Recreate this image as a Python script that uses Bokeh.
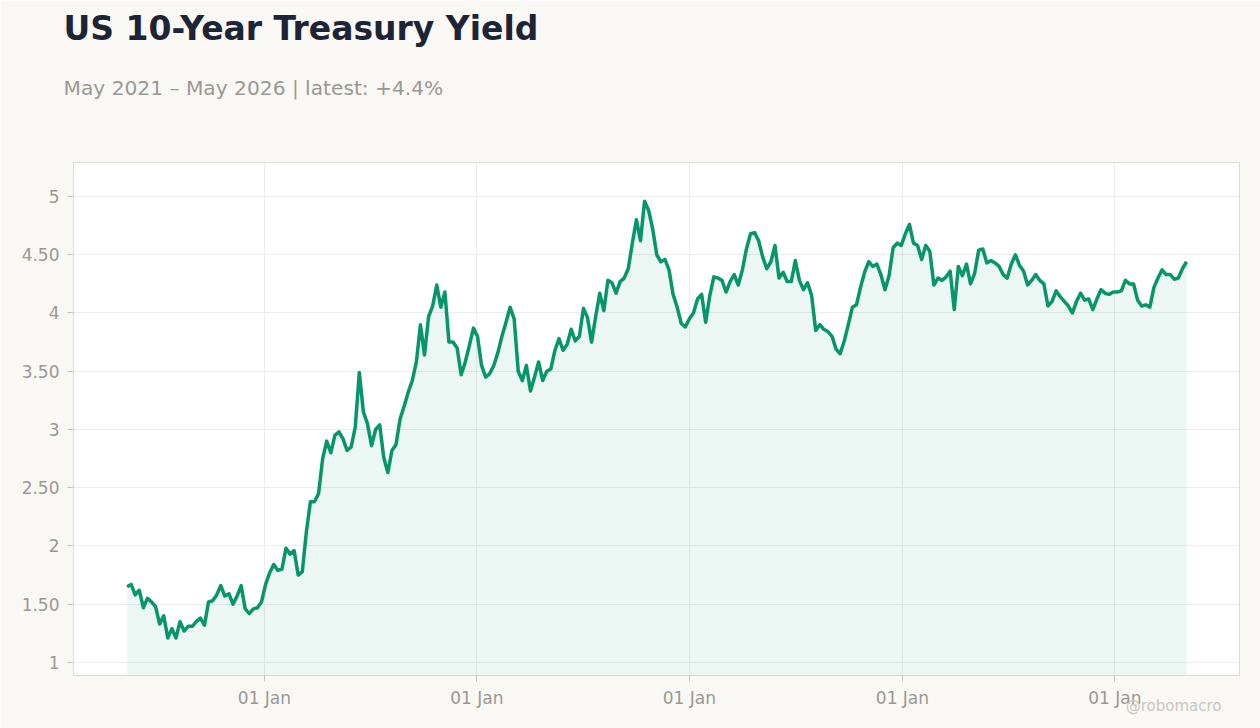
import pandas as pd
from datetime import datetime
from bokeh.plotting import figure
from bokeh.models import (ColumnDataSource, Range1d, FixedTicker, DatetimeTickFormatter,
                          CustomJSTickFormatter, Title)
from bokeh.embed import file_html
from bokeh.resources import INLINE

# ---- data (weekly readings of the 10-year yield, %) ----
start_date = "2021-05-10"
yields = [
    1.65, 1.67, 1.58, 1.62, 1.47, 1.55, 1.52, 1.48, 1.33, 1.40,
    1.21, 1.29, 1.21, 1.35, 1.27, 1.31, 1.31, 1.35, 1.38, 1.32,
    1.52, 1.53, 1.58, 1.66, 1.57, 1.59, 1.50, 1.57, 1.66, 1.46,
    1.42, 1.46, 1.47, 1.52, 1.67, 1.77, 1.84, 1.79, 1.80, 1.98,
    1.93, 1.96, 1.75, 1.78, 2.12, 2.38, 2.38, 2.45, 2.75, 2.90,
    2.80, 2.95, 2.98, 2.92, 2.82, 2.85, 3.02, 3.49, 3.15, 3.05,
    2.86, 3.00, 3.04, 2.76, 2.63, 2.82, 2.87, 3.09, 3.20, 3.32,
    3.42, 3.58, 3.90, 3.64, 3.97, 4.06, 4.24, 4.05, 4.18, 3.75,
    3.75, 3.70, 3.47, 3.58, 3.72, 3.87, 3.80, 3.55, 3.45, 3.48,
    3.55, 3.66, 3.80, 3.92, 4.05, 3.95, 3.50, 3.42, 3.55, 3.33,
    3.45, 3.58, 3.42, 3.50, 3.52, 3.68, 3.78, 3.68, 3.73, 3.86,
    3.76, 3.80, 4.04, 3.96, 3.75, 3.97, 4.17, 4.02, 4.28, 4.26,
    4.17, 4.27, 4.30, 4.38, 4.60, 4.80, 4.62, 4.96, 4.88, 4.72,
    4.50, 4.44, 4.46, 4.37, 4.16, 4.05, 3.91, 3.88, 3.95, 4.00,
    4.12, 4.16, 3.92, 4.15, 4.31, 4.30, 4.28, 4.18, 4.27, 4.33,
    4.24, 4.37, 4.55, 4.68, 4.69, 4.62, 4.48, 4.38, 4.44, 4.58,
    4.30, 4.35, 4.27, 4.27, 4.45, 4.28, 4.20, 4.26, 4.15, 3.85,
    3.90, 3.86, 3.84, 3.80, 3.69, 3.65, 3.76, 3.90, 4.05, 4.07,
    4.22, 4.35, 4.44, 4.40, 4.42, 4.33, 4.20, 4.32, 4.56, 4.60,
    4.58, 4.68, 4.76, 4.60, 4.58, 4.46, 4.58, 4.53, 4.24, 4.30,
    4.28, 4.31, 4.36, 4.03, 4.40, 4.32, 4.42, 4.25, 4.34, 4.54,
    4.55, 4.43, 4.45, 4.43, 4.40, 4.33, 4.30, 4.42, 4.50, 4.41,
    4.36, 4.24, 4.28, 4.33, 4.28, 4.25, 4.06, 4.10, 4.19, 4.14,
    4.10, 4.06, 4.00, 4.10, 4.17, 4.11, 4.12, 4.03, 4.12, 4.20,
    4.17, 4.16, 4.18, 4.18, 4.19, 4.28, 4.25, 4.25, 4.11, 4.06,
    4.07, 4.05, 4.22, 4.30, 4.37, 4.33, 4.33, 4.29, 4.30, 4.38, 4.44,
]
dates = pd.date_range(start_date, periods=len(yields), freq="7D")

x_tick_dates = ["2022-01-01", "2023-01-01", "2024-01-01", "2025-01-01", "2026-01-01"]
y_ticks = [1, 1.5, 2, 2.5, 3, 3.5, 4, 4.5, 5]

title_text = "US 10-Year Treasury Yield"
subtitle_text = "May 2021 \u2013 May 2026 | latest: +4.4%"
credit_text = "@robomacro"

x_start, x_end = datetime(2021, 2, 7), datetime(2026, 8, 3)
y_start, y_end = 0.888, 5.292

# ---- styling ----
LINE = "#079669"
BG = "#f9f8f5"
GREY = "#9a9892"

src = ColumnDataSource(dict(date=dates, y=yields, base=[y_start] * len(yields)))

p = figure(width=1260, height=728, x_axis_type="datetime", output_backend="svg",
           toolbar_location=None, x_range=Range1d(x_start, x_end),
           y_range=Range1d(y_start, y_end),
           min_border_left=73, min_border_right=21, min_border_top=162, min_border_bottom=53)
p.title.visible = False
p.border_fill_color = BG
p.background_fill_color = "white"
p.outline_line_color = "#dedbd5"
p.outline_line_width = 1

p.varea(x="date", y1="base", y2="y", source=src, fill_color=LINE, fill_alpha=0.08)
p.line(x="date", y="y", source=src, line_color=LINE, line_width=3.5, line_join="round")

# axes
p.xaxis.ticker = FixedTicker(ticks=[pd.Timestamp(d).value / 1e6 for d in x_tick_dates])
p.xaxis.formatter = DatetimeTickFormatter(years="%d %b", months="%d %b", days="%d %b")
p.yaxis.ticker = FixedTicker(ticks=y_ticks)
p.yaxis.formatter = CustomJSTickFormatter(code="return (tick % 1 === 0) ? tick.toFixed(0) : tick.toFixed(2);")
for ax in (p.xaxis[0], p.yaxis[0]):
    ax.axis_line_color = None
    ax.major_tick_line_color = "#c9c6c0"
    ax.major_tick_out = 6
    ax.major_tick_in = 0
    ax.minor_tick_line_color = None
    ax.major_label_text_font = "DejaVu Sans"
    ax.major_label_text_font_size = "17px"
    ax.major_label_text_color = GREY
p.yaxis.major_label_standoff = 8
p.xaxis.major_label_standoff = 6

p.xgrid.grid_line_color = "#ececec"
p.ygrid.grid_line_color = "#ececec"

# titles and credit (stacked outward from the plot frame)
p.add_layout(Title(text=" ", standoff=40.3, text_font_size="1px",
                   text_color=BG), "above")
p.add_layout(Title(text=subtitle_text, align="left", offset=-10, standoff=40,
                   text_font="DejaVu Sans", text_font_style="normal",
                   text_font_size="20.2px", text_color=GREY), "above")
p.add_layout(Title(text=title_text, align="left", offset=-10, standoff=11,
                   text_font="DejaVu Sans", text_font_style="bold",
                   text_font_size="33px", text_color="#1c2435"), "above")
p.add_layout(Title(text=credit_text, align="right", offset=18, standoff=-28,
                   vertical_align="top",
                   text_font="DejaVu Sans", text_font_style="normal",
                   text_font_size="15px", text_color="#c9c7c2"), "below")

open("out.html", "w").write(file_html(p, INLINE))
